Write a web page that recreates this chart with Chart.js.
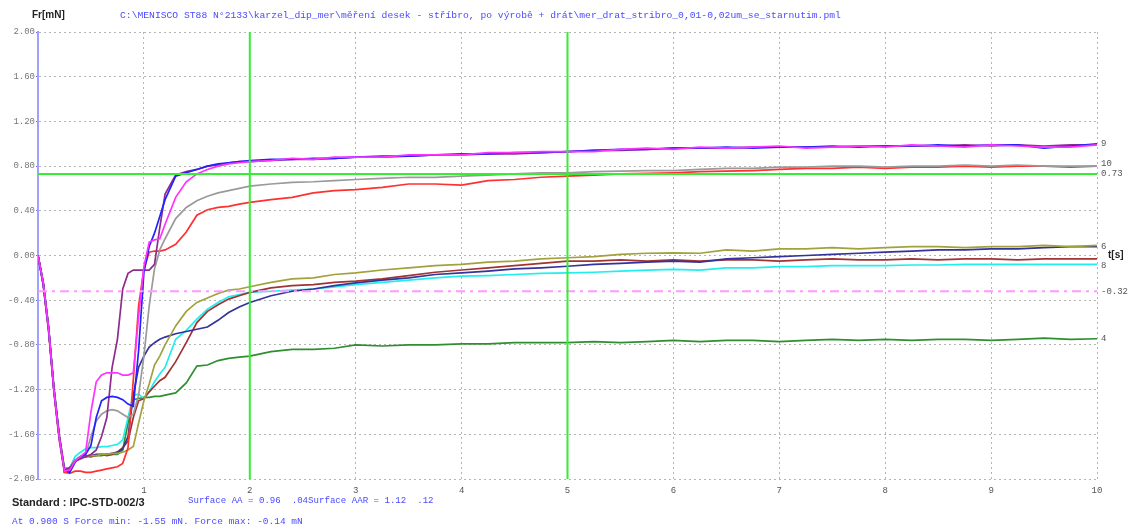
<!DOCTYPE html>
<html>
<head>
<meta charset="utf-8">
<script src="https://cdn.jsdelivr.net/npm/chart.js@4.4.0/dist/chart.umd.min.js"></script>
<style>
  body { margin: 0; background: #fff; }
</style>
</head>
<body>
<canvas id="chart" width="1133" height="529"></canvas>
<script>
// texts
const yTitle = "Fr[mN]";
const xTitle = "t[s]";
const filePath = "C:\\MENISCO ST88 N°2133\\karzel_dip_mer\\měření desek - stříbro, po výrobě + drát\\mer_drat_stribro_0,01-0,02um_se_starnutim.pml";
const standardText = "Standard : IPC-STD-002/3";
const surfaceText = "Surface AA = 0.96  .04Surface AAR = 1.12  .12";
const forceText = "At 0.900 S Force min: -1.55 mN. Force max: -0.14 mN";

// reference lines
const limitForce = 0.73;
const minForce = -0.32;
const markerTimes = [2, 5];

// time axis [s]
const times = [
  0, 0.05, 0.1, 0.15, 0.2, 0.25, 0.3, 0.35, 0.4, 0.45,
  0.5, 0.55, 0.6, 0.65, 0.7, 0.75, 0.8, 0.85, 0.9, 0.95,
  1.0, 1.05, 1.1, 1.15, 1.2, 1.3, 1.4, 1.5, 1.6, 1.7,
  1.8, 1.9, 2.0, 2.2, 2.4, 2.6, 2.8, 3.0, 3.25, 3.5,
  3.75, 4.0, 4.25, 4.5, 4.75, 5.0, 5.25, 5.5, 5.75, 6.0,
  6.25, 6.5, 6.75, 7.0, 7.25, 7.5, 7.75, 8.0, 8.25, 8.5,
  8.75, 9.0, 9.25, 9.5, 9.75, 10.0
];

// force [mN] for each sample
const blueF = [
  0, -0.26, -0.66, -1.2, -1.62, -1.92, -1.94, -1.85, -1.80, -1.78,
  -1.70, -1.45, -1.30, -1.27, -1.26, -1.27, -1.29, -1.33, -1.35, -0.85,
  -0.15, 0.08, 0.2, 0.35, 0.5, 0.71, 0.74, 0.77, 0.80, 0.82,
  0.83, 0.84, 0.85, 0.86, 0.86, 0.87, 0.87, 0.88, 0.89, 0.89,
  0.90, 0.91, 0.91, 0.92, 0.92, 0.93, 0.94, 0.95, 0.95, 0.96,
  0.96, 0.97, 0.96, 0.97, 0.97, 0.98, 0.97, 0.98, 0.98, 0.99,
  0.98, 0.99, 0.99, 0.96, 0.98, 1.00
];
const magentaF = [
  0, -0.25, -0.65, -1.2, -1.62, -1.93, -1.92, -1.84, -1.80, -1.76,
  -1.40, -1.13, -1.07, -1.05, -1.05, -1.05, -1.07, -1.07, -1.05, -0.55,
  -0.10, 0.12, 0.14, 0.15, 0.28, 0.52, 0.66, 0.73, 0.77, 0.80,
  0.82, 0.83, 0.84, 0.85, 0.87, 0.86, 0.88, 0.88, 0.88, 0.90,
  0.90, 0.90, 0.92, 0.92, 0.93, 0.93, 0.93, 0.95, 0.96, 0.95,
  0.97, 0.96, 0.97, 0.98, 0.96, 0.97, 0.98, 0.97, 0.99, 0.98,
  0.97, 0.99, 0.98, 0.97, 0.97, 0.99
];
const purpleF = [
  0, -0.24, -0.64, -1.18, -1.6, -1.92, -1.9, -1.84, -1.82, -1.80,
  -1.78, -1.74, -1.62, -1.45, -1.0, -0.75, -0.3, -0.16, -0.13, -0.13,
  -0.13, -0.13, -0.08, 0.25, 0.55, 0.72, 0.75, 0.77, 0.80, 0.81,
  0.83, 0.84, 0.84, 0.85, 0.86, 0.86, 0.87, 0.88, 0.88, 0.89,
  0.90, 0.90, 0.91, 0.91, 0.92, 0.93, 0.94, 0.94, 0.95, 0.96,
  0.96, 0.96, 0.97, 0.97, 0.97, 0.97, 0.98, 0.98, 0.98, 0.98,
  0.99, 0.98, 0.99, 0.98, 0.99, 0.99
];
const grayF = [
  0, -0.26, -0.66, -1.2, -1.63, -1.92, -1.90, -1.83, -1.80, -1.78,
  -1.62, -1.48, -1.42, -1.39, -1.38, -1.39, -1.42, -1.45, -1.42, -1.25,
  -0.9, -0.45, -0.12, 0.05, 0.15, 0.33, 0.43, 0.49, 0.53, 0.56,
  0.58, 0.60, 0.62, 0.64, 0.655, 0.66, 0.67, 0.68, 0.69, 0.70,
  0.70, 0.71, 0.72, 0.73, 0.74, 0.74, 0.75, 0.755, 0.76, 0.76,
  0.77, 0.78, 0.78, 0.79, 0.79, 0.80, 0.80, 0.79, 0.80, 0.80,
  0.81, 0.80, 0.81, 0.80, 0.80, 0.80
];
const redF = [
  0, -0.27, -0.68, -1.22, -1.65, -1.94, -1.95, -1.93, -1.93, -1.94,
  -1.94, -1.93, -1.92, -1.91, -1.90, -1.89, -1.86, -1.72, -1.11, -0.45,
  -0.12, 0.03, 0.04, 0.04, 0.05, 0.10, 0.21, 0.36, 0.41, 0.43,
  0.44, 0.46, 0.475, 0.50, 0.52, 0.56, 0.58, 0.59, 0.61, 0.64,
  0.64, 0.63, 0.67, 0.68, 0.70, 0.71, 0.72, 0.73, 0.735, 0.74,
  0.75, 0.755, 0.76, 0.77, 0.78, 0.78, 0.79, 0.78, 0.79, 0.79,
  0.80, 0.79, 0.80, 0.80, 0.79, 0.80
];
const oliveF = [
  0, -0.25, -0.64, -1.18, -1.6, -1.9, -1.9, -1.84, -1.81, -1.80,
  -1.79, -1.79, -1.78, -1.78, -1.77, -1.77, -1.76, -1.74, -1.71, -1.50,
  -1.30, -1.15, -0.98, -0.90, -0.80, -0.63, -0.50, -0.42, -0.38, -0.34,
  -0.31, -0.30, -0.28, -0.24, -0.21, -0.20, -0.17, -0.155, -0.13, -0.11,
  -0.09, -0.08, -0.06, -0.05, -0.03, -0.02, -0.01, 0.01, 0.02, 0.024,
  0.02, 0.05, 0.04, 0.06, 0.06, 0.07, 0.06, 0.07, 0.08, 0.08,
  0.07, 0.08, 0.08, 0.09, 0.08, 0.09
];
const brownF = [
  0, -0.26, -0.66, -1.2, -1.62, -1.93, -1.9, -1.83, -1.80, -1.79,
  -1.80, -1.79, -1.78, -1.79, -1.78, -1.76, -1.72, -1.66, -1.45, -1.30,
  -1.28, -1.22, -1.17, -1.12, -1.09, -0.95, -0.78, -0.60, -0.50, -0.44,
  -0.39, -0.36, -0.33, -0.29, -0.27, -0.26, -0.24, -0.23, -0.21, -0.18,
  -0.15, -0.13, -0.11, -0.09, -0.07, -0.05, -0.05, -0.04, -0.05, -0.04,
  -0.05, -0.04, -0.04, -0.05, -0.04, -0.03, -0.04, -0.04, -0.03, -0.04,
  -0.03, -0.03, -0.04, -0.03, -0.03, -0.03
];
const navyF = [
  0, -0.25, -0.65, -1.2, -1.62, -1.94, -1.92, -1.84, -1.81, -1.80,
  -1.79, -1.78, -1.78, -1.78, -1.77, -1.76, -1.73, -1.62, -1.25, -1.0,
  -0.9, -0.82, -0.78, -0.75, -0.73, -0.70, -0.68, -0.66, -0.64, -0.58,
  -0.51, -0.46, -0.42, -0.36, -0.32, -0.30, -0.27, -0.245, -0.22, -0.20,
  -0.17, -0.155, -0.14, -0.12, -0.11, -0.096, -0.08, -0.07, -0.06, -0.05,
  -0.06, -0.03, -0.02, -0.01, 0.00, 0.01, 0.02, 0.03, 0.04, 0.05,
  0.05, 0.06, 0.06, 0.07, 0.08, 0.08
];
const cyanF = [
  0, -0.25, -0.65, -1.19, -1.61, -1.92, -1.9, -1.80, -1.76, -1.73,
  -1.72, -1.72, -1.71, -1.71, -1.70, -1.69, -1.65, -1.45, -1.25, -1.24,
  -1.28, -1.22, -1.13, -1.06, -1.0, -0.75, -0.67, -0.57, -0.48, -0.42,
  -0.37, -0.35, -0.33, -0.32, -0.31, -0.30, -0.28, -0.26, -0.24, -0.22,
  -0.20, -0.185, -0.18, -0.17, -0.16, -0.155, -0.15, -0.14, -0.13, -0.125,
  -0.13, -0.11, -0.11, -0.10, -0.10, -0.09, -0.09, -0.09, -0.085, -0.085,
  -0.08, -0.08, -0.08, -0.08, -0.08, -0.08
];
const greenF = [
  0, -0.25, -0.65, -1.2, -1.62, -1.93, -1.91, -1.84, -1.81, -1.80,
  -1.80, -1.79, -1.79, -1.78, -1.78, -1.78, -1.74, -1.5, -1.29, -1.28,
  -1.27, -1.27, -1.26, -1.26, -1.25, -1.23, -1.14, -0.99, -0.98, -0.94,
  -0.92, -0.91, -0.90, -0.86, -0.84, -0.84, -0.83, -0.80, -0.81, -0.80,
  -0.80, -0.79, -0.79, -0.78, -0.78, -0.78, -0.77, -0.78, -0.77, -0.76,
  -0.77, -0.76, -0.76, -0.77, -0.76, -0.75, -0.76, -0.75, -0.76, -0.75,
  -0.75, -0.76, -0.75, -0.74, -0.75, -0.745
];

// labels written at the right end of the plot
const endLabels = [
  { text: "9", value: 1.0 },
  { text: "10", value: 0.82 },
  { text: "0.73", value: 0.73 },
  { text: "6", value: 0.08 },
  { text: "8", value: -0.09 },
  { text: "-0.32", value: -0.32 },
  { text: "4", value: -0.745 }
];

const curves = [
  { name: "9", values: magentaF, color: "#ff33ff" },
  { name: "1", values: blueF, color: "#2222ff" },
  { name: "2", values: purpleF, color: "#8e2c8e" },
  { name: "10", values: grayF, color: "#9a9a9a" },
  { name: "3", values: redF, color: "#ff3030" },
  { name: "6", values: oliveF, color: "#a3a13c" },
  { name: "5", values: navyF, color: "#33339a" },
  { name: "7", values: brownF, color: "#a03434" },
  { name: "8", values: cyanF, color: "#22eeee" },
  { name: "4", values: greenF, color: "#2f8f2f" }
];

const datasets = [];
// green marker lines and the pink minimum line on top
datasets.push({
  data: [{ x: 0, y: limitForce }, { x: 10, y: limitForce }],
  borderColor: "#33ee33", borderWidth: 2
});
markerTimes.forEach(t => {
  datasets.push({
    data: [{ x: t, y: -2 }, { x: t, y: 2 }],
    borderColor: "#33ee33", borderWidth: 2
  });
});
datasets.push({
  data: [{ x: 0, y: minForce }, { x: 10, y: minForce }],
  borderColor: "#ff99ff", borderWidth: 2, borderDash: [9, 5, 3, 5]
});
curves.forEach(c => {
  datasets.push({
    label: c.name,
    data: times.map((t, i) => ({ x: t, y: c.values[i] })),
    borderColor: c.color,
    borderWidth: 1.7
  });
});

const textPlugin = {
  id: "texts",
  afterDraw(chart) {
    const ctx = chart.ctx;
    const ys = chart.scales.y;
    const right = chart.chartArea.right;
    ctx.save();
    ctx.textBaseline = "middle";
    ctx.textAlign = "left";

    ctx.fillStyle = "#222";
    ctx.font = 'bold 10px "Liberation Sans", Arial';
    ctx.fillText(yTitle, 32, 15);

    ctx.fillStyle = "#4a4aff";
    ctx.font = '9.7px "Liberation Mono", monospace';
    ctx.fillText(filePath, 120, 15);

    ctx.fillStyle = "#555";
    ctx.font = '9px "Liberation Mono", monospace';
    endLabels.forEach(l => {
      ctx.fillText(l.text, right + 4, ys.getPixelForValue(l.value));
    });
    ctx.fillStyle = "#222";
    ctx.font = 'bold 10px "Liberation Sans", Arial';
    ctx.fillText(xTitle, right + 11, ys.getPixelForValue(0));

    ctx.fillStyle = "#222";
    ctx.font = 'bold 11px "Liberation Sans", Arial';
    ctx.fillText(standardText, 12, 503, 136);

    ctx.fillStyle = "#4a4aff";
    ctx.font = '9.1px "Liberation Mono", monospace';
    ctx.fillText(surfaceText, 188, 501);
    ctx.font = '9.5px "Liberation Mono", monospace';
    ctx.fillText(forceText, 12, 521);
    ctx.restore();
  }
};

new Chart(document.getElementById("chart"), {
  type: "line",
  data: { datasets: datasets },
  plugins: [textPlugin],
  options: {
    responsive: false,
    animation: false,
    layout: { padding: { left: 0, right: 36, top: 32, bottom: 0 } },
    elements: { point: { radius: 0 }, line: { tension: 0 } },
    plugins: { legend: { display: false }, tooltip: { enabled: false } },
    scales: {
      x: {
        type: "linear",
        min: 0, max: 10,
        afterFit: s => { s.height = 50; },
        ticks: {
          stepSize: 1, padding: 6, color: "#555",
          font: { family: "Liberation Mono", size: 9 },
          callback: v => (v === 0 ? "" : v)
        },
        grid: { color: "#b5b5b5", drawTicks: false },
        border: { display: false, dash: [2, 3] }
      },
      y: {
        min: -2, max: 2,
        afterFit: s => { s.width = 38; },
        ticks: {
          stepSize: 0.4, padding: 1, color: "#777",
          font: { family: "Liberation Mono", size: 9 },
          callback: v => (Math.abs(v) < 1e-9 ? "0.00" : Number(v).toFixed(2))
        },
        grid: { color: "#b5b5b5", tickLength: 2, tickColor: "#6666ff" },
        border: { color: "#a0a0ff", width: 2, dash: [2, 3] }
      }
    }
  }
});
</script>
</body>
</html>
